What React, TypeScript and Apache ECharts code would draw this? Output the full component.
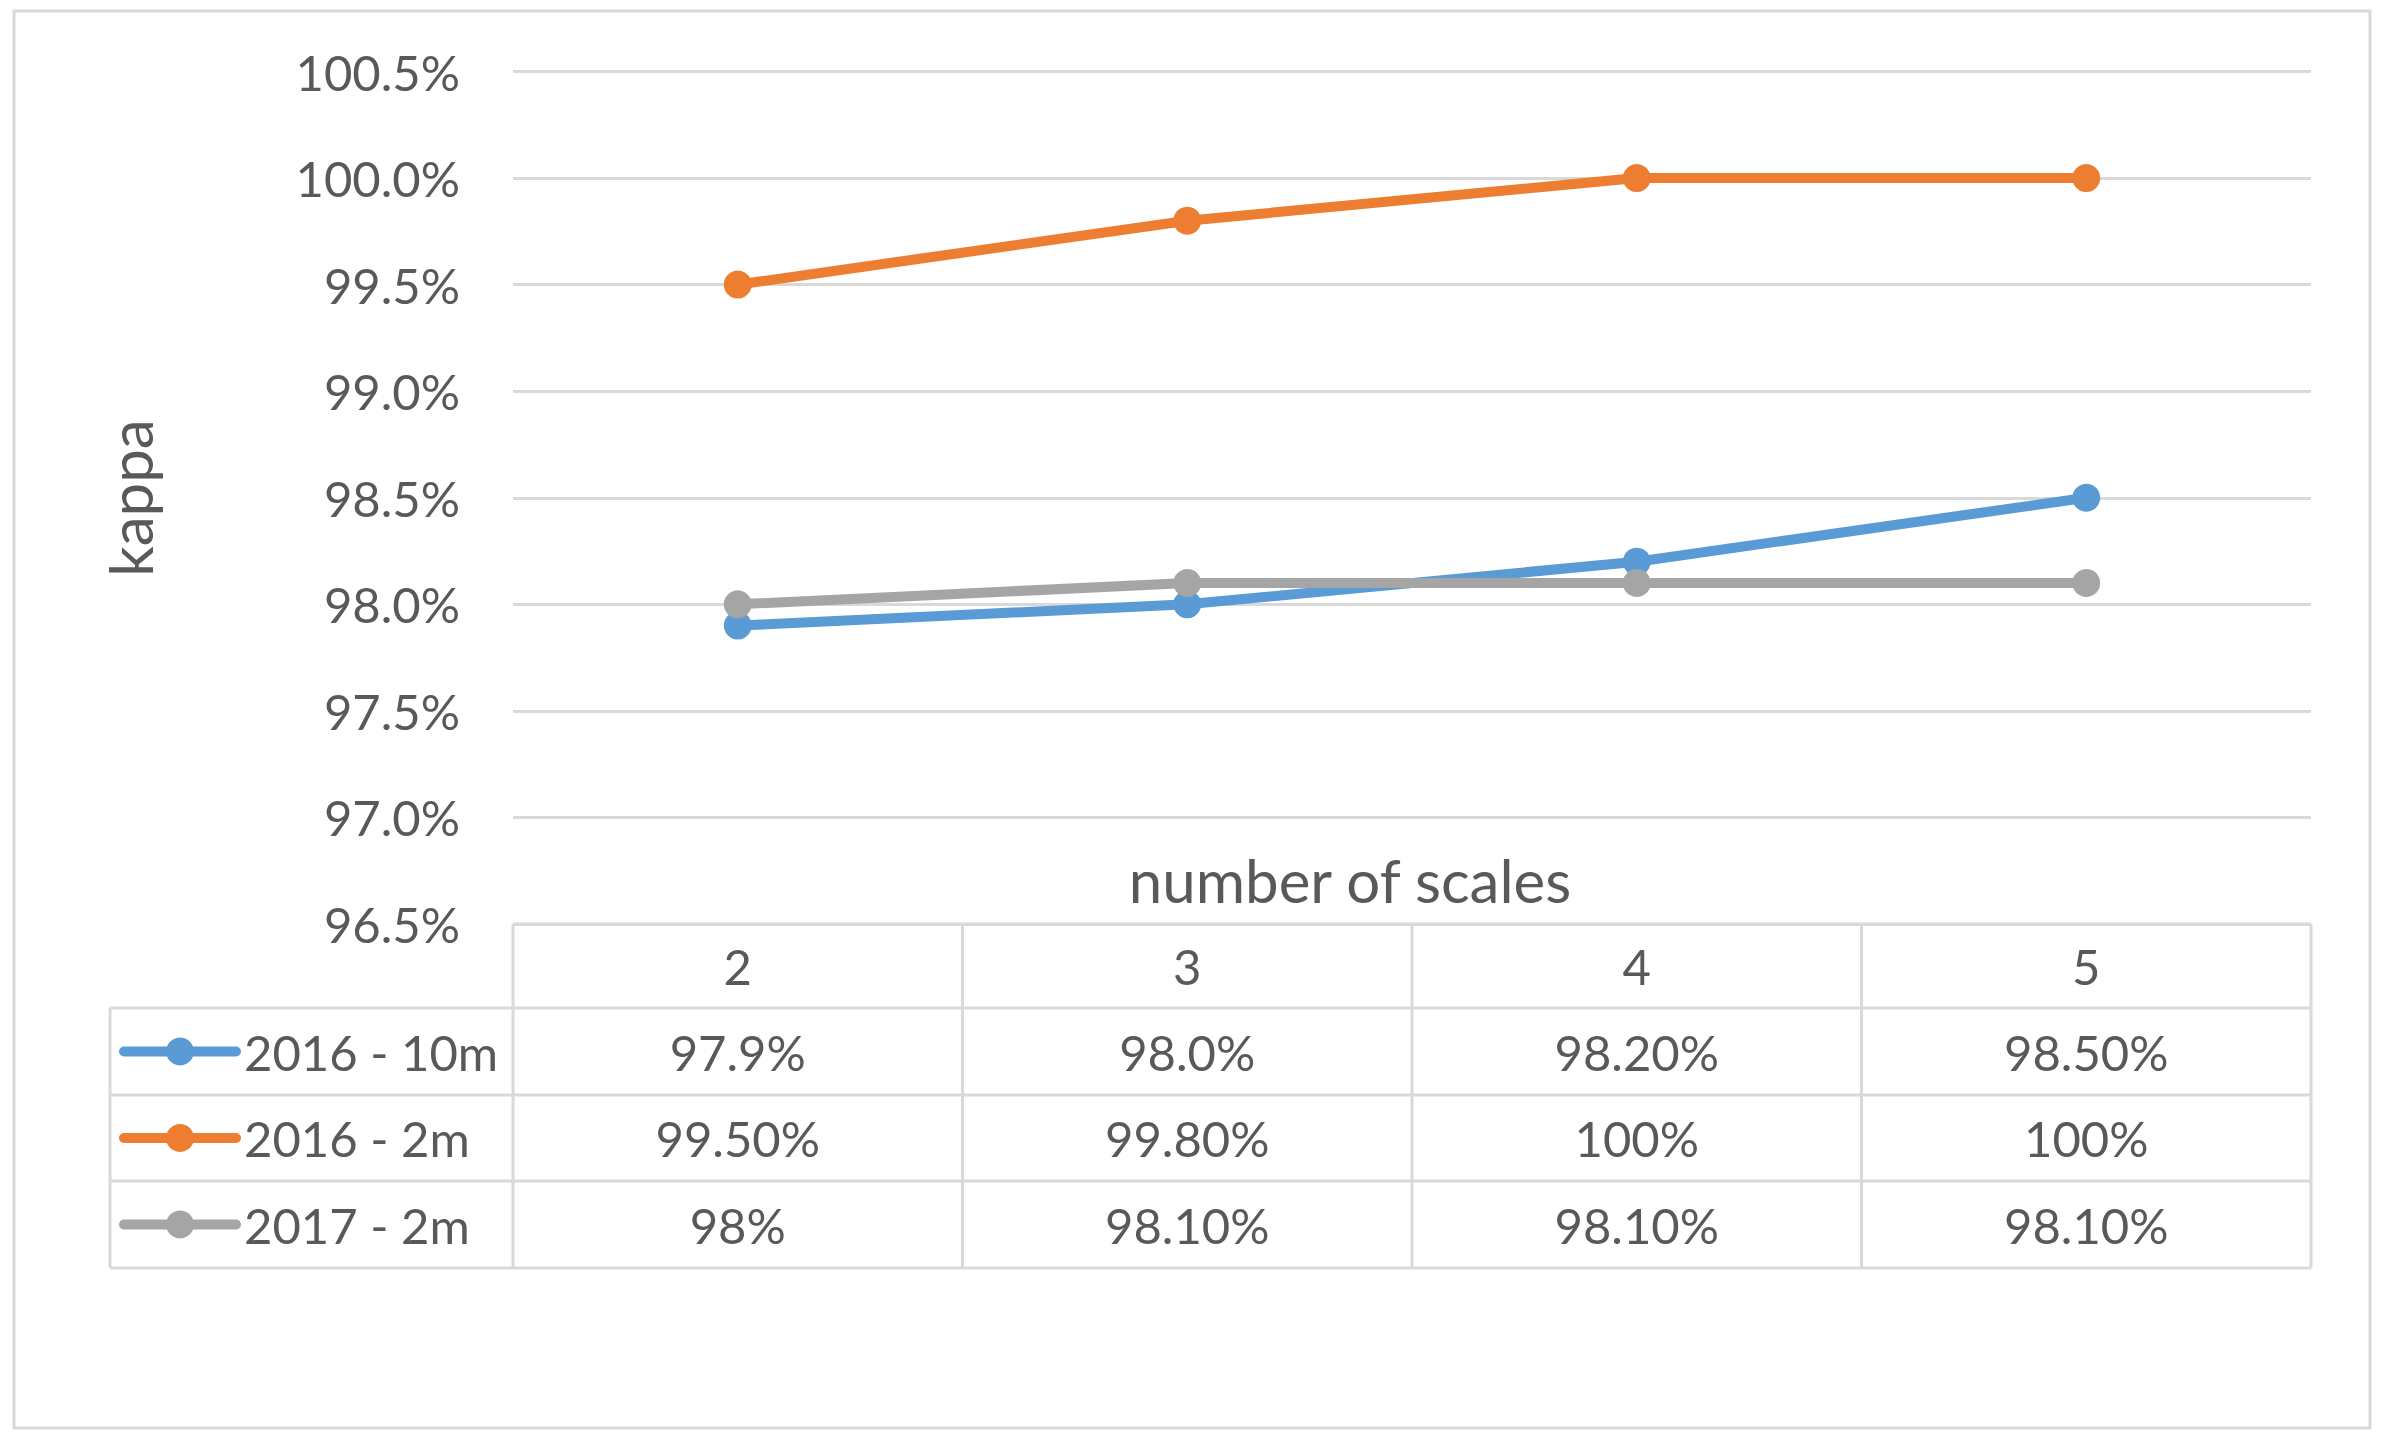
import React, { useEffect, useRef } from "react";
import * as echarts from "echarts";

const categories = ["2", "3", "4", "5"];
const seriesNames = ["2016 - 10m", "2016 - 2m", "2017 - 2m"];
const values2016_10m = [97.9, 98.0, 98.2, 98.5];
const values2016_2m = [99.5, 99.8, 100, 100];
const values2017_2m = [98, 98.1, 98.1, 98.1];
const table2016_10m = ["97.9%", "98.0%", "98.20%", "98.50%"];
const table2016_2m = ["99.50%", "99.80%", "100%", "100%"];
const table2017_2m = ["98%", "98.10%", "98.10%", "98.10%"];
const yTickLabels = ["96.5%", "97.0%", "97.5%", "98.0%", "98.5%", "99.0%", "99.5%", "100.0%", "100.5%"];
const yAxisTitle = "kappa";
const xAxisTitle = "number of scales";

const COLORS = ["#5b9bd5", "#ed7d31", "#a5a5a5"];
const TEXT = "#595959";
const GRID = "#d9d9d9";
const FONT = "Lato";
const FS = 49;
const TITLE_FS = 60;

export default function App() {
  const ref = useRef<HTMLDivElement>(null);
  useEffect(() => {
    document.body.style.margin = "0";
    const chart = echarts.init(ref.current!, undefined, { renderer: "svg" });
    const W = 2387;
    const gridLeft = 513;
    const gridRight = 2311;
    const gridTop = 71.5;
    const gridBottom = 924;
    const allValues = [values2016_10m, values2016_2m, values2017_2m];
    const option: any = {
      animation: false,
      backgroundColor: "#ffffff",
      grid: {
        left: gridLeft,
        right: W - gridRight,
        top: gridTop,
        height: gridBottom - gridTop,
        containLabel: false,
      },
      xAxis: {
        type: "category",
        data: categories,
        boundaryGap: true,
        axisLine: { show: false },
        axisTick: { show: false },
        axisLabel: {
          color: TEXT,
          fontSize: FS,
          fontFamily: FONT,
          verticalAlign: "middle",
          margin: 42,
        },
      },
      yAxis: {
        type: "value",
        min: 96.5,
        max: 100.5,
        interval: 0.5,
        axisLine: { show: false },
        axisTick: { show: false },
        splitLine: { lineStyle: { color: GRID, width: 3 } },
        axisLabel: {
          color: TEXT,
          fontSize: FS,
          fontFamily: FONT,
          margin: 53,
          formatter: (v: number) => {
            const idx = Math.round((v - 96.5) / 0.5);
            return yTickLabels[idx] ?? "";
          },
        },
      },
      series: allValues.map((vals, i) => ({
        name: seriesNames[i],
        type: "line",
        data: vals,
        symbol: "circle",
        symbolSize: 28,
        showSymbol: true,
        color: COLORS[i],
        lineStyle: { color: COLORS[i], width: 10 },
        itemStyle: { color: COLORS[i] },
        z: 3 + i,
      })),
    };
    chart.setOption(option);

    const centers = categories.map((_, i) => chart.convertToPixel({ xAxisIndex: 0 }, i) as number);
    const band = centers.length > 1 ? centers[1] - centers[0] : gridRight - gridLeft;
    const bounds = [centers[0] - band / 2, ...centers.map((c) => c + band / 2)];
    const tableLeft = 110;
    const rowYs = [924, 1008, 1095, 1181, 1268];
    const lineStyle = { stroke: GRID, lineWidth: 3 };
    const g: any[] = [];
    g.push({
      type: "rect",
      shape: { x: 14, y: 11, width: 2356, height: 1417 },
      style: { fill: "none", stroke: GRID, lineWidth: 3 },
      z: 1,
    });
    g.push({ type: "line", shape: { x1: bounds[0], y1: rowYs[0], x2: bounds[bounds.length - 1], y2: rowYs[0] }, style: lineStyle, z: 20 });
    for (let r = 1; r < rowYs.length; r++) {
      g.push({ type: "line", shape: { x1: tableLeft, y1: rowYs[r], x2: bounds[bounds.length - 1], y2: rowYs[r] }, style: lineStyle, z: 20 });
    }
    g.push({ type: "line", shape: { x1: tableLeft, y1: rowYs[1], x2: tableLeft, y2: rowYs[4] }, style: lineStyle, z: 20 });
    bounds.forEach((b) => {
      g.push({ type: "line", shape: { x1: b, y1: rowYs[0], x2: b, y2: rowYs[4] }, style: lineStyle, z: 20 });
    });
    const tables = [table2016_10m, table2016_2m, table2017_2m];
    tables.forEach((row, r) => {
      const cy = (rowYs[r + 1] + rowYs[r + 2]) / 2;
      g.push({ type: "line", shape: { x1: 124, y1: cy, x2: 236, y2: cy }, style: { stroke: COLORS[r], lineWidth: 10, lineCap: "round" }, z: 21 });
      g.push({ type: "circle", shape: { cx: 180, cy, r: 14 }, style: { fill: COLORS[r] }, z: 22 });
      g.push({
        type: "text",
        x: 244,
        y: cy,
        style: { text: seriesNames[r], fill: TEXT, fontSize: FS, fontFamily: FONT, align: "left", verticalAlign: "middle" },
        z: 22,
      });
      row.forEach((t, c) => {
        g.push({
          type: "text",
          x: centers[c],
          y: cy,
          style: { text: t, fill: TEXT, fontSize: FS, fontFamily: FONT, align: "center", verticalAlign: "middle" },
          z: 22,
        });
      });
    });
    g.push({
      type: "text",
      x: 1350,
      y: 880,
      style: { text: xAxisTitle, fill: TEXT, fontSize: TITLE_FS, fontFamily: FONT, align: "center", verticalAlign: "middle" },
      z: 22,
    });
    g.push({
      type: "text",
      x: 130,
      y: 498,
      rotation: Math.PI / 2,
      style: { text: yAxisTitle, fill: TEXT, fontSize: TITLE_FS, fontFamily: FONT, align: "center", verticalAlign: "middle" },
      z: 22,
    });
    chart.setOption({ graphic: g });

    return () => chart.dispose();
  }, []);
  return <div ref={ref} style={{ position: "fixed", left: 0, top: 0, width: 2387, height: 1439 }} />;
}
